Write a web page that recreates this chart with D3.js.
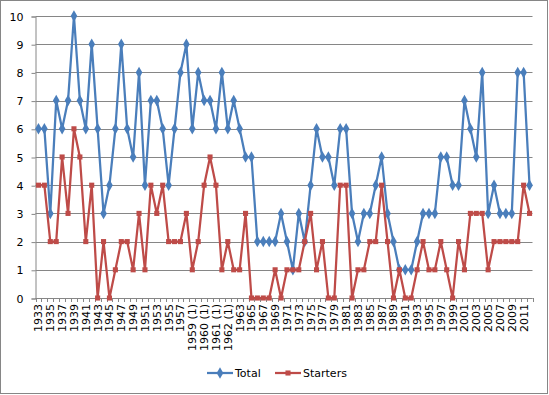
<!DOCTYPE html>
<html>
<head>
<meta charset="utf-8">
<script src="https://cdn.jsdelivr.net/npm/d3@7"></script>
<style>
  body { margin: 0; background: #fff; }
  text { font-family: "DejaVu Sans", Verdana, sans-serif; fill: #000; }
</style>
</head>
<body>
<svg width="549" height="395"></svg>
<script>
var years = [];
for (var y = 1933; y <= 1958; y++) years.push(String(y));
["1959 (1)", "1959 (2)", "1960 (1)", "1960 (2)", "1961 (1)", "1961 (2)", "1962 (1)", "1962 (2)"]
    .forEach(function(d) { years.push(d); });
for (var y = 1963; y <= 2012; y++) years.push(String(y));

var total = [6,6,3,7,6,7,10,7,6,9,6,3,4,6,9,6,5,8,4,7,7,6,4,6,8,9,6,8,7,7,
             6,8,6,7,6,5,5,2,2,2,2,3,2,1,3,2,4,6,5,5,4,6,6,3,2,3,3,4,
             5,3,2,1,1,1,2,3,3,3,5,5,4,4,7,6,5,8,3,4,3,3,3,8,8,4];
var starters = [4,4,2,2,5,3,6,5,2,4,0,2,0,1,2,2,1,3,1,4,3,4,2,2,2,3,1,2,4,5,
                4,1,2,1,1,3,0,0,0,0,1,0,1,1,1,2,3,1,2,0,0,4,4,0,1,1,2,2,
                4,2,0,1,0,0,1,2,1,1,2,1,0,2,1,3,3,3,1,2,2,2,2,2,4,3];
var yTicks = [0,1,2,3,4,5,6,7,8,9,10];

var series = [
    {name: "Total", values: total, color: "#4A7EBB", marker: "diamond"},
    {name: "Starters", values: starters, color: "#BE4B48", marker: "square"}
];

var svg = d3.select("svg");

svg.append("rect")
    .attr("x", 0.5).attr("y", 0.5)
    .attr("width", 547).attr("height", 393)
    .attr("fill", "#fff")
    .attr("stroke", "#868686");

var plotLeft = 35.5, plotRight = 532.5, plotTop = 16, plotBottom = 298;

var x = d3.scaleBand().domain(years).range([plotLeft, plotRight]);
var yScale = d3.scaleLinear().domain([0, 10]).range([plotBottom, plotTop]);

// gridlines
svg.append("g")
    .selectAll("line")
    .data(yTicks)
    .enter().append("line")
    .attr("x1", plotLeft).attr("x2", plotRight)
    .attr("y1", function(d) { return Math.round(yScale(d)) + 0.5; })
    .attr("y2", function(d) { return Math.round(yScale(d)) + 0.5; })
    .attr("stroke", "#868686")
    .attr("stroke-width", 1);

// y axis
var yAxis = svg.append("g")
    .attr("transform", "translate(" + plotLeft + ",0.5)")
    .call(d3.axisLeft(yScale).tickValues(yTicks).tickSize(4).tickPadding(8));
yAxis.select(".domain").attr("stroke", "#868686");
yAxis.selectAll(".tick line").attr("stroke", "#868686");
yAxis.selectAll(".tick text")
    .style("font-family", "DejaVu Sans, Verdana, sans-serif")
    .style("font-size", "11px")
    .attr("fill", "#000");

// x axis (tick marks at category boundaries)
var bounds = years.map(function(d) { return x(d); }).concat([plotRight]);
var xAxis = svg.append("g");
xAxis.append("line")
    .attr("x1", plotLeft).attr("x2", plotRight)
    .attr("y1", Math.round(plotBottom) + 0.5).attr("y2", Math.round(plotBottom) + 0.5)
    .attr("stroke", "#868686");
xAxis.selectAll("line.tk")
    .data(bounds)
    .enter().append("line")
    .attr("class", "tk")
    .attr("x1", function(d) { return Math.round(d) + 0.5; })
    .attr("x2", function(d) { return Math.round(d) + 0.5; })
    .attr("y1", plotBottom).attr("y2", plotBottom + 4)
    .attr("stroke", "#868686");

xAxis.selectAll("text")
    .data(years.filter(function(d, i) { return i % 2 === 0; }))
    .enter().append("text")
    .attr("transform", function(d) {
        return "translate(" + (x(d) + x.bandwidth() / 2 + 4) + "," + (plotBottom + 6) + ") rotate(-90)";
    })
    .attr("text-anchor", "end")
    .style("font-size", "11px")
    .text(function(d) { return d; });

// lines + markers
var line = d3.line()
    .x(function(d, i) { return x(years[i]) + x.bandwidth() / 2; })
    .y(function(d) { return yScale(d); });

var diamond = d3.symbol().type(d3.symbolDiamond).size(38);
var square = d3.symbol().type(d3.symbolSquare).size(26);

series.forEach(function(s) {
    svg.append("path")
        .attr("d", line(s.values))
        .attr("fill", "none")
        .attr("stroke", s.color)
        .attr("stroke-width", 2.25)
        .attr("stroke-linejoin", "round");

    svg.append("g")
        .selectAll("path")
        .data(s.values)
        .enter().append("path")
        .attr("d", s.marker === "diamond" ? diamond : square)
        .attr("transform", function(d, i) {
            return "translate(" + (x(years[i]) + x.bandwidth() / 2) + "," + yScale(d) + ")";
        })
        .attr("fill", s.color);
});

// legend
var legend = svg.append("g").attr("transform", "translate(207,373)");
var legendItems = [
    {s: series[0], x: 0},
    {s: series[1], x: 68}
];
legendItems.forEach(function(it) {
    var g = legend.append("g").attr("transform", "translate(" + it.x + ",0)");
    g.append("line")
        .attr("x1", 0).attr("x2", 26)
        .attr("y1", 0).attr("y2", 0)
        .attr("stroke", it.s.color)
        .attr("stroke-width", 2.25);
    g.append("path")
        .attr("d", it.s.marker === "diamond" ? diamond : square)
        .attr("transform", "translate(13,0)")
        .attr("fill", it.s.color);
    g.append("text")
        .attr("x", 28).attr("y", 4)
        .style("font-size", "11px")
        .text(it.s.name);
});
</script>
</body>
</html>
